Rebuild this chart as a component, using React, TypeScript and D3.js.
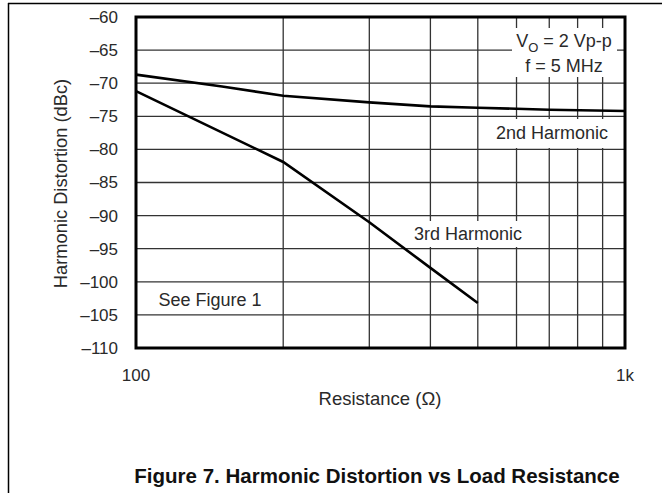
import React from "react";
import * as d3 from "d3";

const resistance2nd = [100, 150, 200, 300, 400, 500, 700, 1000];
const harmonic2nd = [-68.7, -70.5, -71.9, -72.9, -73.5, -73.7, -74.0, -74.2];
const resistance3rd = [100, 200, 300, 400, 500];
const harmonic3rd = [-71.2, -81.9, -91.0, -97.9, -103.2];
const yTicks = [-60, -65, -70, -75, -80, -85, -90, -95, -100, -105, -110];
const xGrid = [200, 300, 400, 500, 600, 700, 800, 900];
const xTickLabels: [number, string][] = [[100, "100"], [1000, "1k"]];

const W = 671, H = 493;
const L = 136, R = 625, T = 17, B = 348;
const FONT = "'Liberation Sans', Arial, sans-serif";
const TXT = "#2a2a2a";

export default function App() {
  const x = d3.scaleLog().domain([100, 1000]).range([L, R]);
  const y = d3.scaleLinear().domain([-110, -60]).range([B, T]);
  const line = d3.line<[number, number]>().x(d => x(d[0])).y(d => y(d[1]));
  const d2 = line(resistance2nd.map((r, i) => [r, harmonic2nd[i]] as [number, number])) || "";
  const d3p = line(resistance3rd.map((r, i) => [r, harmonic3rd[i]] as [number, number])) || "";
  const fmt = (v: number) => (v < 0 ? "\u2013" + Math.abs(v) : String(v));

  return (
    <svg width={W} height={H} style={{ position: "absolute", left: 0, top: 0, background: "#fff" }} fontFamily={FONT}>
      {/* frame */}
      <line x1={8} y1={3.5} x2={662} y2={3.5} stroke="#000" strokeWidth={1.5} />
      <line x1={8.5} y1={3} x2={8.5} y2={H} stroke="#000" strokeWidth={1.5} />

      {/* grid */}
      {yTicks.map(t => (
        <line key={"h" + t} x1={L} x2={R} y1={y(t)} y2={y(t)} stroke="#333" strokeWidth={1.3} />
      ))}
      {xGrid.map(g => (
        <line key={"v" + g} x1={x(g)} x2={x(g)} y1={T} y2={B} stroke="#333" strokeWidth={1.3} />
      ))}

      {/* label boxes hiding grid */}
      <rect x={512} y={28} width={105} height={49} fill="#fff" />
      <rect x={490} y={119} width={130} height={29} fill="#fff" />
      <rect x={405} y={221} width={126} height={26} fill="#fff" />

      {/* curves */}
      <path d={d2} fill="none" stroke="#000" strokeWidth={2.6} />
      <path d={d3p} fill="none" stroke="#000" strokeWidth={2.6} />

      {/* plot border */}
      <rect x={L} y={T} width={R - L} height={B - T} fill="none" stroke="#000" strokeWidth={3} />

      {/* y tick labels */}
      {yTicks.map(t => (
        <text key={"yt" + t} x={118} y={y(t)} dy="0.35em" textAnchor="end" fontSize={17} fill={TXT}>
          {fmt(t)}
        </text>
      ))}
      {/* x tick labels */}
      {xTickLabels.map(([v, s]) => (
        <text key={"xt" + v} x={x(v)} y={381} textAnchor="middle" fontSize={17} fill={TXT}>
          {s}
        </text>
      ))}

      {/* axis titles */}
      <text x={380} y={405} textAnchor="middle" fontSize={18.5} fill={TXT}>Resistance (Ω)</text>
      <text transform={`translate(67,${(T + B) / 2 + 1}) rotate(-90)`} textAnchor="middle" fontSize={18.3} fill={TXT}>
        Harmonic Distortion (dBc)
      </text>

      {/* annotations */}
      <text x={564} y={47} textAnchor="middle" fontSize={18} fill={TXT}>
        V<tspan fontSize={13} dy={5}>O</tspan><tspan dy={-5}> = 2 Vp-p</tspan>
      </text>
      <text x={564} y={72} textAnchor="middle" fontSize={18} fill={TXT}>f = 5 MHz</text>
      <text x={552} y={139} textAnchor="middle" fontSize={18} fill={TXT}>2nd Harmonic</text>
      <text x={468} y={240} textAnchor="middle" fontSize={18} fill={TXT}>3rd Harmonic</text>
      <text x={210} y={306} textAnchor="middle" fontSize={18} fill={TXT}>See Figure 1</text>

      {/* figure caption */}
      <text x={377} y={483} textAnchor="middle" fontSize={20.5} fontWeight="bold" fill="#111">
        Figure 7. Harmonic Distortion vs Load Resistance
      </text>
    </svg>
  );
}
